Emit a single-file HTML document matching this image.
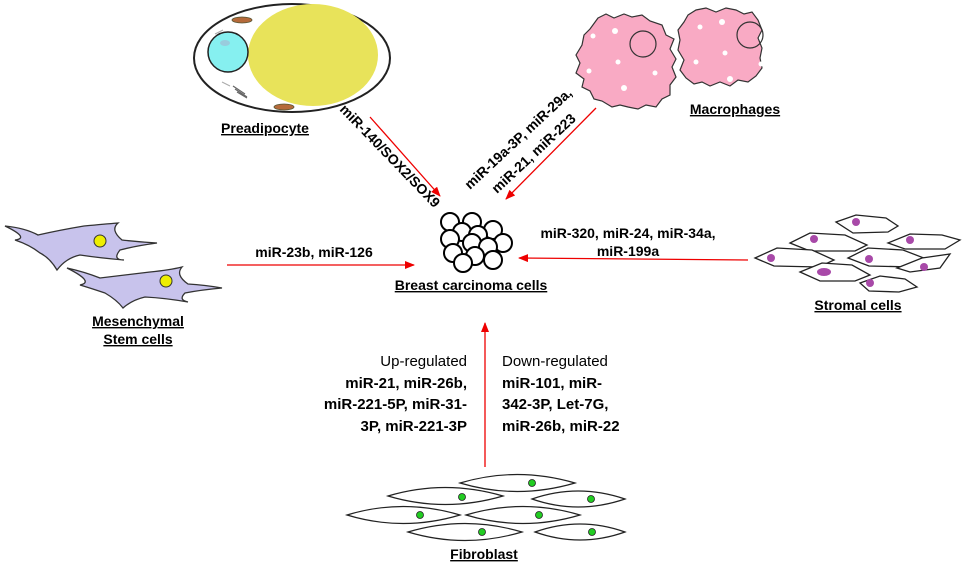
<!DOCTYPE html>
<html><head><meta charset="utf-8"><style>
html,body{margin:0;padding:0;background:#fff}
svg{display:block}
text{font-family:"Liberation Sans",sans-serif}
.b{font-weight:bold;font-size:14px}
.u{text-decoration:underline}
</style></head><body>
<svg width="968" height="564" viewBox="0 0 968 564" xmlns="http://www.w3.org/2000/svg">
<defs>
<marker id="ah" markerWidth="10" markerHeight="8" refX="9" refY="4" orient="auto" markerUnits="userSpaceOnUse">
<path d="M0,0 L10,4 L0,8 z" fill="#e00"/></marker>
</defs>

<!-- Preadipocyte -->
<ellipse cx="292" cy="58" rx="98" ry="54" fill="#fff" stroke="#222" stroke-width="2"/>
<ellipse cx="313" cy="55" rx="65" ry="51" fill="#e8e35a"/>
<circle cx="228" cy="52" r="20" fill="#86f0f0" stroke="#222" stroke-width="1.5"/>
<ellipse cx="225" cy="43" rx="5" ry="3" fill="#9cd"/>
<ellipse cx="242" cy="20" rx="10" ry="3" fill="#b56a3a" stroke="#553" stroke-width="0.8"/>
<ellipse cx="284" cy="107" rx="10" ry="3" fill="#b56a3a" stroke="#553" stroke-width="0.8"/>
<path d="M233,86 l12,8 M235,89 l12,8 M237,92 l10,6" stroke="#666" stroke-width="1.2"/>
<path d="M215,34 l8,-4 M222,82 l8,4" stroke="#aaa" stroke-width="1"/>
<text x="265" y="133" class="b u" text-anchor="middle">Preadipocyte</text>

<!-- Macrophages -->
<path d="M598,18 l8,-4 8,4 10,-4 8,3 10,-2 8,6 12,4 4,10 8,4 -4,10 6,10 -4,8 4,10 -6,8 0,10 -8,4 -6,8 -10,-2 -8,4 -10,-2 -8,-2 -8,2 -10,-6 -8,-2 -4,-8 -8,-4 2,-8 -8,-6 4,-10 -4,-8 6,-10 2,-10 6,-6 z" fill="#f9aac4" stroke="#333" stroke-width="1.2"/>
<circle cx="643" cy="44" r="13" fill="none" stroke="#333" stroke-width="1.2"/>
<g fill="#fff"><circle cx="593" cy="36" r="2.5"/><circle cx="615" cy="31" r="3"/><circle cx="618" cy="62" r="2.5"/><circle cx="589" cy="71" r="2.5"/><circle cx="655" cy="73" r="2.5"/><circle cx="624" cy="88" r="3"/></g>
<path d="M688,15 l8,-5 10,-2 10,4 10,-4 10,2 8,4 8,-2 6,8 4,10 -4,8 4,10 -2,10 2,10 -6,8 -8,6 -10,-2 -8,6 -10,-4 -10,4 -8,-4 -8,2 -8,-6 -6,-8 4,-10 -6,-10 2,-10 -2,-10 6,-8 z" fill="#f9aac4" stroke="#333" stroke-width="1.2"/>
<circle cx="750" cy="35" r="13" fill="none" stroke="#333" stroke-width="1.2"/>
<g fill="#fff"><circle cx="722" cy="22" r="3"/><circle cx="700" cy="27" r="2.5"/><circle cx="725" cy="53" r="2.5"/><circle cx="696" cy="62" r="2.5"/><circle cx="761" cy="64" r="2.5"/><circle cx="730" cy="79" r="3"/></g>
<text x="735" y="114" class="b u" text-anchor="middle">Macrophages</text>

<!-- arrows -->
<line x1="370" y1="117" x2="440" y2="196" stroke="#e00" stroke-width="1.3" marker-end="url(#ah)"/>
<line x1="596" y1="108" x2="506" y2="199" stroke="#e00" stroke-width="1.3" marker-end="url(#ah)"/>
<line x1="227" y1="265" x2="414" y2="265" stroke="#e00" stroke-width="1.3" marker-end="url(#ah)"/>
<line x1="748" y1="260" x2="519" y2="258" stroke="#e00" stroke-width="1.3" marker-end="url(#ah)"/>
<line x1="485" y1="467" x2="485" y2="323" stroke="#e00" stroke-width="1.3" marker-end="url(#ah)"/>

<!-- rotated labels -->
<text class="b" transform="translate(339,110) rotate(46)">miR-140/SOX2/SOX9</text>
<text class="b" transform="translate(470,190) rotate(-43)">miR-19a-3P, miR-29a,</text>
<text class="b" transform="translate(497,194) rotate(-43)">miR-21, miR-223</text>

<!-- Carcinoma cells -->
<g fill="#fff" stroke="#000" stroke-width="2">
<circle cx="450" cy="222" r="9"/><circle cx="472" cy="222" r="9"/><circle cx="493" cy="230" r="9"/>
<circle cx="462" cy="232" r="9"/><circle cx="478" cy="235" r="9"/><circle cx="450" cy="239" r="9"/>
<circle cx="503" cy="243" r="9"/><circle cx="472" cy="243" r="9"/><circle cx="488" cy="247" r="9"/>
<circle cx="453" cy="253" r="9"/><circle cx="475" cy="256" r="9"/><circle cx="493" cy="260" r="9"/><circle cx="463" cy="263" r="9"/>
</g>
<text x="471" y="290" class="b u" text-anchor="middle">Breast carcinoma cells</text>

<text x="314" y="257" class="b" text-anchor="middle">miR-23b, miR-126</text>
<text x="628" y="238" class="b" text-anchor="middle">miR-320, miR-24, miR-34a,</text>
<text x="628" y="256" class="b" text-anchor="middle">miR-199a</text>

<!-- Mesenchymal -->
<path d="M5,226 Q25,228 38,235 Q60,230 84,226 Q105,224 118,223 Q110,230 122,240 Q140,242 157,243 Q135,246 120,250 Q112,260 124,260 Q100,258 80,255 Q66,258 57,270 Q50,258 40,253 Q30,245 15,240 Q30,238 5,226 z" fill="#c8c3ec" stroke="#333" stroke-width="1.3"/>
<circle cx="100" cy="241" r="6" fill="#ee0" stroke="#333"/>
<path d="M67,268 Q85,272 100,278 Q125,275 150,272 Q170,270 182,267 Q175,275 188,284 Q205,285 222,288 Q200,290 185,293 Q178,300 188,302 Q165,298 145,297 Q132,300 123,308 Q117,300 105,293 Q90,288 80,285 Q95,282 67,268 z" fill="#c8c3ec" stroke="#333" stroke-width="1.3"/>
<circle cx="166" cy="281" r="6" fill="#ee0" stroke="#333"/>
<text x="138" y="326" class="b u" text-anchor="middle">Mesenchymal</text>
<text x="138" y="344" class="b u" text-anchor="middle">Stem cells</text>

<!-- Stromal -->
<g fill="#fff" stroke="#222" stroke-width="1.3">
<path d="M836,222 l20,-7 30,3 12,8 -10,6 -35,1 z"/>
<path d="M790,243 l20,-10 35,2 22,10 -12,6 -45,0 z"/>
<path d="M888,243 l22,-9 32,1 18,5 -15,9 -40,0 z"/>
<path d="M755,258 l22,-10 35,2 22,10 -15,7 -45,-1 z"/>
<path d="M848,258 l20,-10 35,2 26,10 -15,7 -45,-1 z"/>
<path d="M897,268 l25,-10 28,-4 -10,14 -30,4 z"/>
<path d="M800,272 l22,-9 30,2 18,10 -15,6 -35,0 z"/>
<path d="M860,283 l20,-7 25,3 12,8 -18,5 -30,-1 z"/>
</g>
<g fill="#a849a8">
<circle cx="856" cy="222" r="4"/><circle cx="814" cy="239" r="4"/><circle cx="910" cy="240" r="4"/>
<circle cx="771" cy="258" r="4"/><circle cx="869" cy="259" r="4"/><circle cx="924" cy="267" r="4"/>
<ellipse cx="824" cy="272" rx="7" ry="4"/><circle cx="870" cy="283" r="4"/>
</g>
<text x="858" y="310" class="b u" text-anchor="middle">Stromal cells</text>

<!-- Regulation text -->
<g font-size="15">
<text x="467" y="366" text-anchor="end">Up-regulated</text>
<text x="467" y="388" text-anchor="end" font-weight="bold">miR-21, miR-26b,</text>
<text x="467" y="409" text-anchor="end" font-weight="bold">miR-221-5P, miR-31-</text>
<text x="467" y="431" text-anchor="end" font-weight="bold">3P, miR-221-3P</text>
<text x="502" y="366">Down-regulated</text>
<text x="502" y="388" font-weight="bold">miR-101, miR-</text>
<text x="502" y="409" font-weight="bold">342-3P, Let-7G,</text>
<text x="502" y="431" font-weight="bold">miR-26b, miR-22</text>
</g>

<!-- Fibroblast -->
<g fill="#fff" stroke="#222" stroke-width="1.2">
<path d="M460,483 Q517,466 575,483 Q517,500 460,483 z"/>
<path d="M388,496 Q445,479 503,496 Q445,513 388,496 z"/>
<path d="M532,499 Q578,483 625,499 Q578,515 532,499 z"/>
<path d="M347,515 Q403,498 460,515 Q403,532 347,515 z"/>
<path d="M466,515 Q523,498 580,515 Q523,532 466,515 z"/>
<path d="M408,532 Q465,515 522,532 Q465,549 408,532 z"/>
<path d="M535,532 Q580,516 625,532 Q580,548 535,532 z"/>
</g>
<g fill="#2c2" stroke="#222" stroke-width="0.8">
<circle cx="532" cy="483" r="3.5"/><circle cx="462" cy="497" r="3.5"/><circle cx="591" cy="499" r="3.5"/>
<circle cx="420" cy="515" r="3.5"/><circle cx="539" cy="515" r="3.5"/><circle cx="482" cy="532" r="3.5"/><circle cx="592" cy="532" r="3.5"/>
</g>
<text x="484" y="559" class="b u" text-anchor="middle">Fibroblast</text>
</svg>
</body></html>
